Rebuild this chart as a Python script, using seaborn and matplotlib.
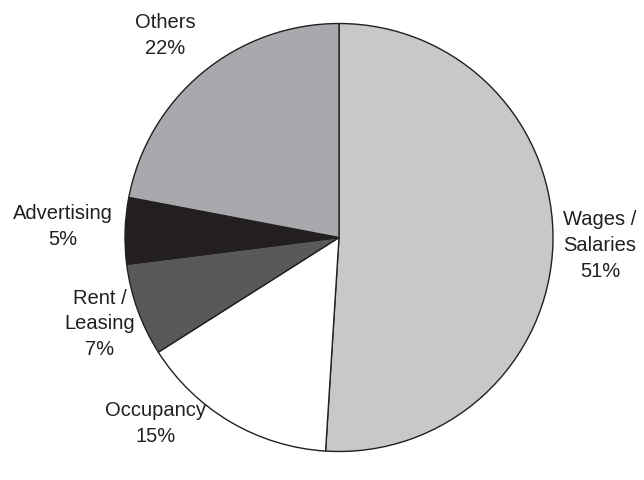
import numpy as np
import matplotlib
matplotlib.use("Agg")
import matplotlib.pyplot as plt
import seaborn as sns

# Expense categories (clockwise from 12 o'clock)
categories = ["Wages /\nSalaries", "Occupancy", "Rent /\nLeasing", "Advertising", "Others"]
shares = [51, 15, 7, 5, 22]
colors = ["#c7c8ca", "#ffffff", "#58595b", "#231f20", "#a7a9ac"]

# label placement tweaks: (radial distance, angular nudge in degrees)
label_dist = [1.22, 1.22, 1.19, 1.29, 1.245]
label_nudge = [0.0, -14.0, 0.0, -0.5, 1.2]

sns.set_theme(style="white")
plt.rcParams["font.family"] = ["Liberation Sans", "DejaVu Sans"]

fig = plt.figure(figsize=(6.44, 4.80), dpi=100)
W, H = 644, 480
cx, cy, r = 339, 242.5, 214
ax = fig.add_axes([(cx - r) / W, (cy - r) / H, 2 * r / W, 2 * r / H])

wedges, _ = ax.pie(
    shares,
    colors=colors,
    startangle=90,
    counterclock=False,
    radius=1.0,
    wedgeprops=dict(edgecolor="#231f20", linewidth=1.0),
)
ax.set_xlim(-1, 1)
ax.set_ylim(-1, 1)
ax.set_aspect("equal")
ax.axis("off")

for w, name, val, d, nud in zip(wedges, categories, shares, label_dist, label_nudge):
    mid = np.deg2rad((w.theta1 + w.theta2) / 2 + nud)
    ax.text(d * np.cos(mid), d * np.sin(mid), f"{name}\n{val}%",
            ha="center", va="center", multialignment="center",
            fontsize=14.5, color="#231f20", linespacing=1.45, clip_on=False)

fig.savefig("out.png", dpi=100, facecolor="white")
